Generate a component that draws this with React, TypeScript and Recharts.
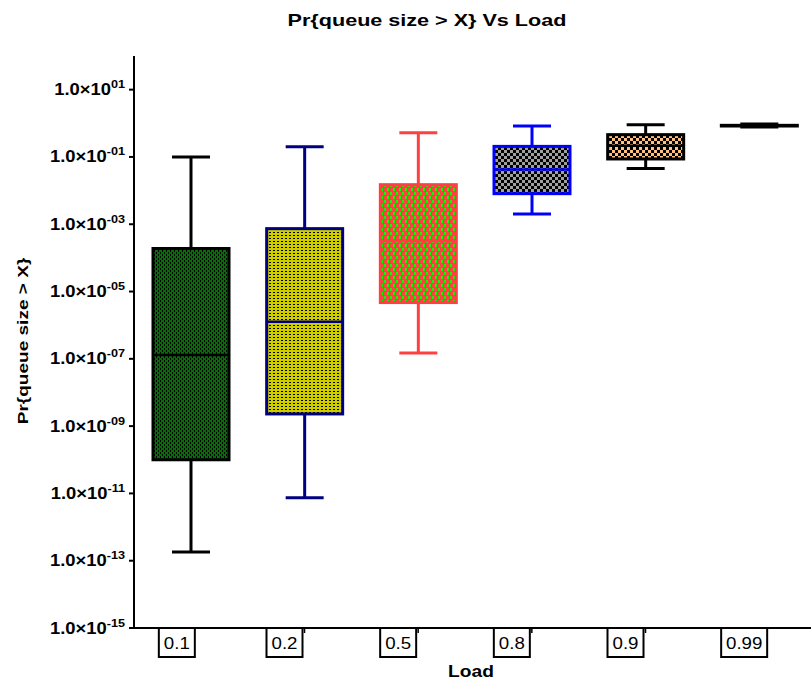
import React from "react";
import { ComposedChart, Bar, XAxis, YAxis } from "recharts";

// values (log scale)
const loads = ["0.1", "0.2", "0.5", "0.8", "0.9", "0.99"];
const whiskerLow = [1.8e-13, 7.4e-12, 1.5e-7, 2.0e-3, 0.045, 0.78];
const quartile1 = [1.0e-10, 2.3e-9, 4.7e-6, 8.1e-3, 0.087, 0.83];
const medians = [1.3e-7, 1.26e-6, 3.2e-4, 0.042, 0.216, 0.85];
const quartile3 = [1.9e-4, 7.4e-4, 1.5e-2, 0.206, 0.46, 0.87];
const whiskerHigh = [0.1, 0.2, 0.52, 0.83, 0.91, 0.96];
const yTicks = [1e1, 1e-1, 1e-3, 1e-5, 1e-7, 1e-9, 1e-11, 1e-13, 1e-15];

const edgeColors = ["#000000", "#000080", "#ff4040", "#0000ff", "#000000", "#000000"];

const data = loads.map((load, i) => ({
  load,
  whisker: [whiskerLow[i], whiskerHigh[i]],
  box: [quartile1[i], quartile3[i]],
  med: [medians[i] / 1.02, medians[i] * 1.02],
}));

const idx = (p: any) => (typeof p.index === "number" ? p.index : loads.indexOf(p.payload?.load));

const WhiskerShape = (p: any) => {
  const i = idx(p);
  const cx = p.x + p.width / 2;
  const cap = p.width / 4;
  return (
    <g stroke={edgeColors[i]} strokeWidth={3} fill="none">
      <line x1={cx} x2={cx} y1={p.y} y2={p.y + p.height} />
      <line x1={cx - cap} x2={cx + cap} y1={p.y} y2={p.y} />
      <line x1={cx - cap} x2={cx + cap} y1={p.y + p.height} y2={p.y + p.height} />
    </g>
  );
};

const BoxShape = (p: any) => {
  const i = idx(p);
  return (
    <rect
      x={p.x}
      y={p.y}
      width={p.width}
      height={Math.max(p.height, 0.5)}
      fill={`url(#pat${i})`}
      stroke={edgeColors[i]}
      strokeWidth={3}
    />
  );
};

const MedianShape = (p: any) => {
  const i = idx(p);
  const y = p.y + p.height / 2;
  return <line x1={p.x} x2={p.x + p.width} y1={y} y2={y} stroke={edgeColors[i]} strokeWidth={2.5} />;
};

const font = "Arial, 'Liberation Sans', sans-serif";

const YTick = (p: any) => {
  const exp = Math.round(Math.log10(p.payload.value));
  const sup = (exp < 0 ? "-" : "") + String(Math.abs(exp)).padStart(2, "0");
  return (
    <g transform={`translate(${p.x},${p.y}) scale(1.15,1)`}>
      <text textAnchor="end" fontFamily={font} fontWeight="bold" fill="#000">
        <tspan fontSize={16} dy={5.5}>1.0×10</tspan>
        <tspan fontSize={11} dy={-7}>{sup}</tspan>
      </text>
    </g>
  );
};

const XTick = (p: any) => {
  const label = String(p.payload.value);
  const w = label.length > 3 ? 46 : 36;
  const top = p.y - 5;
  const left = p.x - (p.index === 0 ? 32 : 38);
  return (
    <g>
      <rect x={left} y={top} width={w} height={29} fill="#fff" stroke="#000" strokeWidth={2} />
      <text
        transform={`translate(${left + w / 2},${top + 21}) scale(1.1,1)`}
        textAnchor="middle"
        fontFamily={font}
        fontSize={17}
        fill="#000"
      >
        {label}
      </text>
    </g>
  );
};

export default function App() {
  return (
    <div style={{ position: "absolute", left: 0, top: 0, width: 811, height: 681, overflow: "hidden", background: "#fff" }}>
      <ComposedChart width={820} height={681} data={data} margin={{ top: 56, right: 4, bottom: 23, left: 14 }}>
        <defs>
          <pattern id="pat0" width={4} height={4} patternUnits="userSpaceOnUse">
            <rect width={4} height={4} fill="#007000" />
            <rect x={0} y={0} width={1} height={2} fill="#000" />
            <rect x={2} y={2} width={1} height={2} fill="#000" />
          </pattern>
          <pattern id="pat1" width={4} height={3} patternUnits="userSpaceOnUse">
            <rect width={4} height={3} fill="#cccc00" />
            <rect x={1} y={1} width={2} height={1} fill="#000" />
          </pattern>
          <pattern id="pat2" width={6} height={8} patternUnits="userSpaceOnUse">
            <rect width={6} height={8} fill="#ff4040" />
            <rect x={0} y={0} width={2} height={3} fill="#00ff00" />
            <rect x={3} y={4} width={2} height={3} fill="#00ff00" />
          </pattern>
          <pattern id="pat3" width={6} height={6} patternUnits="userSpaceOnUse">
            <rect width={6} height={6} fill="#000" />
            <rect x={0} y={0} width={3} height={3} fill="#a0a0a0" />
            <rect x={3} y={3} width={3} height={3} fill="#a0a0a0" />
          </pattern>
          <pattern id="pat4" width={6} height={6} patternUnits="userSpaceOnUse">
            <rect width={6} height={6} fill="#000" />
            <rect x={0} y={0} width={3} height={3} fill="#ffc080" />
            <rect x={3} y={3} width={3} height={3} fill="#ffc080" />
          </pattern>
          <pattern id="pat5" width={4} height={4} patternUnits="userSpaceOnUse">
            <rect width={4} height={4} fill="#000" />
          </pattern>
        </defs>
        <XAxis xAxisId="w" dataKey="load" type="category" orientation="top" height={0} hide />
        <XAxis xAxisId="m" dataKey="load" type="category" orientation="top" height={0} hide />
        <XAxis
          xAxisId="main"
          dataKey="load"
          type="category"
          height={30}
          axisLine={{ stroke: "#000", strokeWidth: 2 }}
          tickLine={{ stroke: "#000", strokeWidth: 1.5 }}
          tickSize={5}
          tickMargin={0}
          interval={0}
          tick={<XTick />}
        />
        <YAxis
          scale="log"
          domain={[1e-15, 1e2]}
          allowDataOverflow
          ticks={yTicks}
          interval={0}
          width={120}
          axisLine={{ stroke: "#000", strokeWidth: 2 }}
          tickLine={{ stroke: "#000", strokeWidth: 2 }}
          tickSize={5}
          tickMargin={4}
          tick={<YTick />}
        />
        <Bar xAxisId="w" dataKey="whisker" barSize={76} shape={<WhiskerShape />} isAnimationActive={false} />
        <Bar xAxisId="main" dataKey="box" barSize={76} shape={<BoxShape />} isAnimationActive={false} />
        <Bar xAxisId="m" dataKey="med" barSize={76} shape={<MedianShape />} isAnimationActive={false} />
      </ComposedChart>
      <svg width={811} height={681} style={{ position: "absolute", left: 0, top: 0, pointerEvents: "none" }}>
        <text
          transform="translate(427,26) scale(1.27,1)"
          textAnchor="middle"
          fontFamily={font}
          fontWeight="bold"
          fontSize={17}
          fill="#000"
        >
          Pr{"{"}queue size &gt; X{"}"} Vs Load
        </text>
        <text
          transform="translate(28,341) rotate(-90) scale(1.27,1)"
          textAnchor="middle"
          fontFamily={font}
          fontWeight="bold"
          fontSize={15}
          fill="#000"
        >
          Pr{"{"}queue size &gt; X{"}"}
        </text>
        <text
          transform="translate(471,677) scale(1.2,1)"
          textAnchor="middle"
          fontFamily={font}
          fontWeight="bold"
          fontSize={16}
          fill="#000"
        >
          Load
        </text>
      </svg>
    </div>
  );
}
